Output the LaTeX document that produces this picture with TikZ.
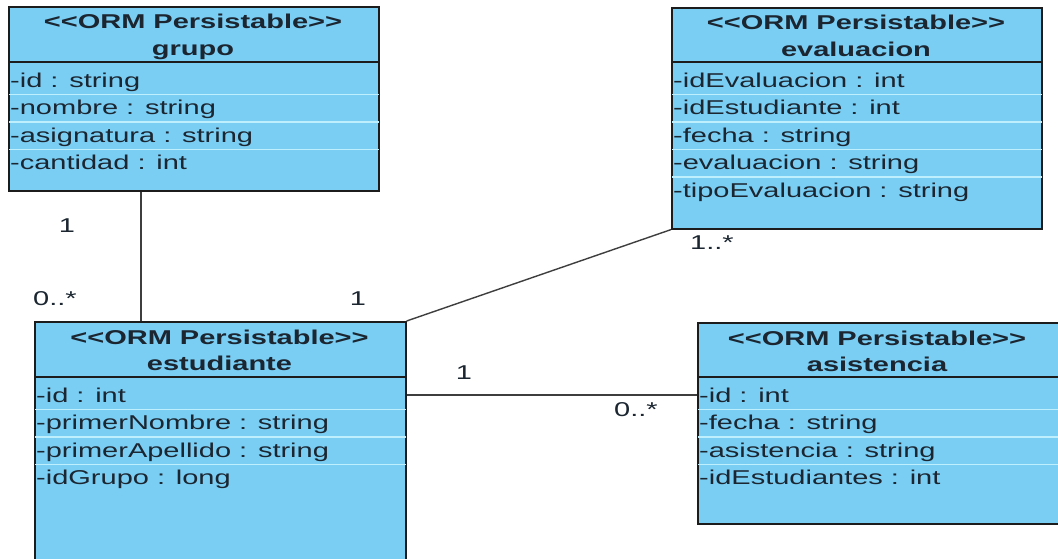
\documentclass[tikz,border=0pt]{standalone}
\usepackage{fontspec}
\newfontfamily\umlfont[FakeStretch=1.45]{Liberation Sans}
\definecolor{classfill}{HTML}{7ACEF4}
\definecolor{rowline}{HTML}{BDEFFC}
\definecolor{edge}{HTML}{1C1C1C}
\definecolor{ink}{HTML}{1B2631}
\newcommand\stereotext{<\kern0pt<ORM Persistable>\kern0pt>}
\tikzset{
  classbox/.style={draw=edge, line width=1.6pt, fill=classfill, rectangle,
    inner sep=0pt, anchor=north west},
  attr/.style={anchor=base west, inner sep=0pt,
    font=\umlfont\fontsize{20}{24}\selectfont, text=ink},
  stereo/.style={anchor=base, inner sep=0pt,
    font=\umlfont\bfseries\fontsize{20}{24}\selectfont, text=ink},
  mult/.style={anchor=base, inner sep=0pt,
    font=\umlfont\fontsize{20}{24}\selectfont, text=ink},
  assoc/.style={draw=edge!85, line width=1.4pt},
  divider/.style={draw=edge, line width=1.4pt},
  rowsep/.style={draw=rowline, line width=1.4pt},
}
\begin{document}
\begin{tikzpicture}[x=1pt, y=-1pt]
\useasboundingbox (0,0) rectangle (1058,558);
\clip (0,0) rectangle (1058,558);
\fill[white] (0,0) rectangle (1058,558);

% ---- grupo ----
\node[classbox, minimum width=370pt, minimum height=184pt] (grupo) at (8,6) {};
\node[stereo] (grupoS) at (193,28) {\stereotext};
\node[stereo] (grupoN) at (193,55) {grupo};
\draw[divider] ([yshift=-56pt]grupo.north west) -- ([yshift=-56pt]grupo.north east);
\foreach \k in {0,1,2}
  \draw[rowsep] ([yshift={-(88.5+27.5*\k)*1pt}, xshift=1pt]grupo.north west)
    -- ([yshift={-(88.5+27.5*\k)*1pt}, xshift=-1pt]grupo.north east);
\foreach \t [count=\k from 0] in {-id : string, -nombre : string,
    -asignatura : string, -cantidad : int}
  \node[attr] (grupoA\k) at (10, 87+27.5*\k) {\t};

% ---- evaluacion ----
\node[classbox, minimum width=370pt, minimum height=221pt] (evaluacion) at (671,7) {};
\node[stereo] (evaluacionS) at (856,29) {\stereotext};
\node[stereo] (evaluacionN) at (856,56) {evaluacion};
\draw[divider] ([yshift=-55pt]evaluacion.north west) -- ([yshift=-55pt]evaluacion.north east);
\foreach \k in {0,1,2,3}
  \draw[rowsep] ([yshift={-(87.5+27.5*\k)*1pt}, xshift=1pt]evaluacion.north west)
    -- ([yshift={-(87.5+27.5*\k)*1pt}, xshift=-1pt]evaluacion.north east);
\foreach \t [count=\k from 0] in {-idEvaluacion : int, -idEstudiante : int,
    -fecha : string, -evaluacion : string, -tipoEvaluacion : string}
  \node[attr] (evaluacionA\k) at (673, 87+27.5*\k) {\t};

% ---- estudiante ----
\node[classbox, minimum width=371pt, minimum height=260pt] (estudiante) at (34,321) {};
\node[stereo] (estudianteS) at (219.5,344) {\stereotext};
\node[stereo] (estudianteN) at (219.5,370) {estudiante};
\draw[divider] ([yshift=-56pt]estudiante.north west) -- ([yshift=-56pt]estudiante.north east);
\foreach \k in {0,1,2}
  \draw[rowsep] ([yshift={-(88.5+27.5*\k)*1pt}, xshift=1pt]estudiante.north west)
    -- ([yshift={-(88.5+27.5*\k)*1pt}, xshift=-1pt]estudiante.north east);
\foreach \t [count=\k from 0] in {-id : int, -primerNombre : string,
    -primerApellido : string, -idGrupo : long}
  \node[attr] (estudianteA\k) at (36, 402+27.5*\k) {\t};

% ---- asistencia ----
\node[classbox, minimum width=380pt, minimum height=201pt] (asistencia) at (697,322) {};
\node[stereo] (asistenciaS) at (877,345) {\stereotext};
\node[stereo] (asistenciaN) at (877,371) {asistencia};
\draw[divider] ([yshift=-55pt]asistencia.north west) -- ([yshift=-55pt]asistencia.north east);
\foreach \k in {0,1,2}
  \draw[rowsep] ([yshift={-(87.5+27.5*\k)*1pt}, xshift=1pt]asistencia.north west)
    -- ([yshift={-(87.5+27.5*\k)*1pt}, xshift=-1pt]asistencia.north east);
\foreach \t [count=\k from 0] in {-id : int, -fecha : string,
    -asistencia : string, -idEstudiantes : int}
  \node[attr] (asistenciaA\k) at (699, 402+27.5*\k) {\t};

% ---- associations ----
\draw[assoc] ([xshift=133pt]grupo.south west) -- ([xshift=107pt]estudiante.north west);
\draw[assoc] (estudiante.north east) -- (evaluacion.south west);
\draw[assoc] ([yshift=-74pt]estudiante.north east) coordinate (ea) -- (ea -| asistencia.west);

% ---- multiplicities ----
\node[mult] (m1) at (67,232) {1};
\node[mult] (m2) at (55,305) {0..*};
\node[mult] (m3) at (358,305) {1};
\node[mult] (m4) at (712,249) {1..*};
\node[mult] (m5) at (464,379) {1};
\node[mult] (m6) at (636,416) {0..*};
\end{tikzpicture}
\end{document}
